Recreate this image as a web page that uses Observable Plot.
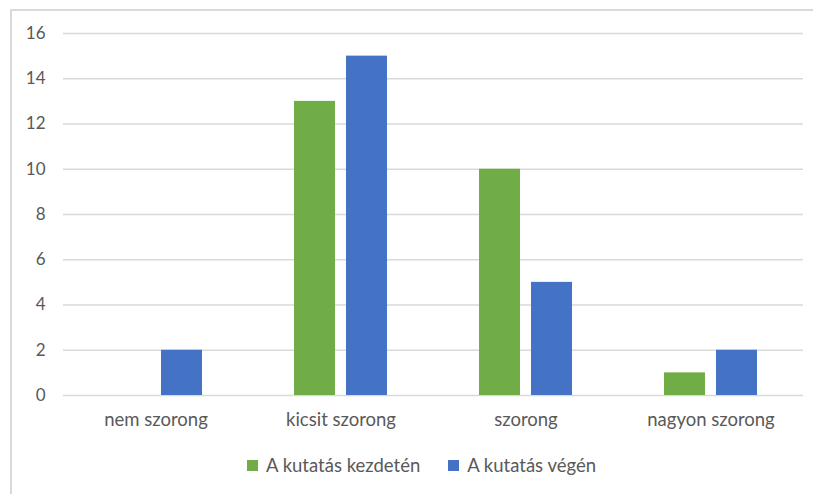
<!DOCTYPE html>
<html>
<head>
<meta charset="utf-8">
<script src="https://cdn.jsdelivr.net/npm/d3@7"></script>
<script src="https://cdn.jsdelivr.net/npm/@observablehq/plot@0.6"></script>
<style>
  html, body { margin: 0; padding: 0; background: #fff; }
  #wrap { position: relative; width: 813px; height: 494px; overflow: hidden; font-family: Lato, "Noto Sans", sans-serif; }
  #frame { position: absolute; left: 10px; top: 9px; width: 820px; height: 500px; border-left: 2px solid #d9d9d9; border-top: 2px solid #d9d9d9; box-sizing: border-box; pointer-events: none; }
  #chart svg { display: block; }
  #legend { position: absolute; left: 247px; top: 454px; display: flex; align-items: center; font-size: 18.5px; color: #595959; }
  .item { display: flex; align-items: center; margin-right: 28px; }
  .sw { width: 11px; height: 11px; margin-right: 8px; }
</style>
</head>
<body>
<div id="wrap">
  <div id="chart"></div>
  <div id="legend"></div>
  <div id="frame"></div>
</div>
<script>
// Anxiety levels at the start and end of the study
const categories = ["nem szorong", "kicsit szorong", "szorong", "nagyon szorong"];
const seriesNames = ["A kutatás kezdetén", "A kutatás végén"];
const seriesColors = ["#70ad47", "#4472c4"];
const startValues = [0, 13, 10, 1];
const endValues = [2, 15, 5, 2];
const yTicks = [0, 2, 4, 6, 8, 10, 12, 14, 16];

const rows = categories.flatMap((c, i) => [
  {category: c, series: seriesNames[0], value: startValues[i]},
  {category: c, series: seriesNames[1], value: endValues[i]}
]);

const chart = Plot.plot({
  width: 813,
  height: 450,
  marginLeft: 63,
  marginRight: 10,
  marginTop: 33,
  marginBottom: 55,
  style: {fontFamily: "Lato, 'Noto Sans', sans-serif", fontSize: "18.5px", color: "#595959", background: "transparent"},
  fx: {domain: categories, padding: 0, label: null},
  x: {domain: seriesNames, paddingInner: 0.21, paddingOuter: 0.88, axis: null},
  y: {domain: [0, 16], ticks: yTicks, label: null},
  color: {domain: seriesNames, range: seriesColors},
  marks: [
    Plot.gridY(yTicks, {stroke: "#d9d9d9", strokeOpacity: 1, strokeWidth: 1.4}),
    Plot.barY(rows.filter(d => d.value > 0), {fx: "category", x: "series", y: "value", fill: "series"}),
    Plot.axisY(yTicks, {tickSize: 0, tickPadding: 18, label: null, fill: "#595959", fontSize: 17}),
    Plot.axisFx({anchor: "bottom", tickSize: 0, tickPadding: 17, label: null, fill: "#595959"})
  ]
});
document.getElementById("chart").appendChild(chart);

const legend = document.getElementById("legend");
seriesNames.forEach((name, i) => {
  const item = document.createElement("div");
  item.className = "item";
  const sw = document.createElement("span");
  sw.className = "sw";
  sw.style.background = seriesColors[i];
  const label = document.createElement("span");
  label.textContent = name;
  item.appendChild(sw);
  item.appendChild(label);
  legend.appendChild(item);
});
</script>
</body>
</html>
